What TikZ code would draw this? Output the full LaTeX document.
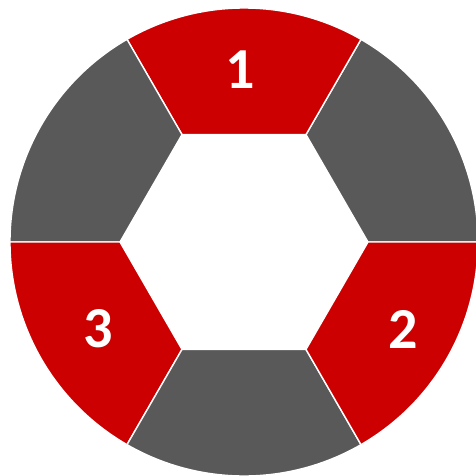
\documentclass[tikz,border=0pt]{standalone}
\usepackage{fontspec}
\setsansfont{Carlito}
\usetikzlibrary{positioning}
\definecolor{ringred}{HTML}{CC0000}
\definecolor{ringgray}{HTML}{595959}
\tikzset{
  ringpart/.style={draw=white,line width=1.4pt,line join=miter},
  ringlabel/.style={text=white,font=\sffamily\bfseries\fontsize{58}{58}\selectfont,inner sep=0pt}
}
\begin{document}
\begin{tikzpicture}[x=1pt,y=1pt]
  \useasboundingbox (-244,-233) rectangle (232,242);
  \clip (-244,-233) rectangle (232,242);
  % six ring segments around the hexagonal hole
  \foreach \a/\col in {0/ringgray,60/ringred,120/ringgray,180/ringred,240/ringgray,300/ringred}{
    \path[ringpart,fill=\col] (\a:124) -- (\a:234) arc[start angle=\a,delta angle=60,radius=234]
      -- (\a+60:124) -- cycle;
  }
  \node[ringlabel] (lbl1) at (-4,172.5) {1};
  \node[ringlabel] (lbl2) at (159.5,-87.5) {2};
  \node[ringlabel] (lbl3) at (-145.5,-86.5) {3};
\end{tikzpicture}
\end{document}
